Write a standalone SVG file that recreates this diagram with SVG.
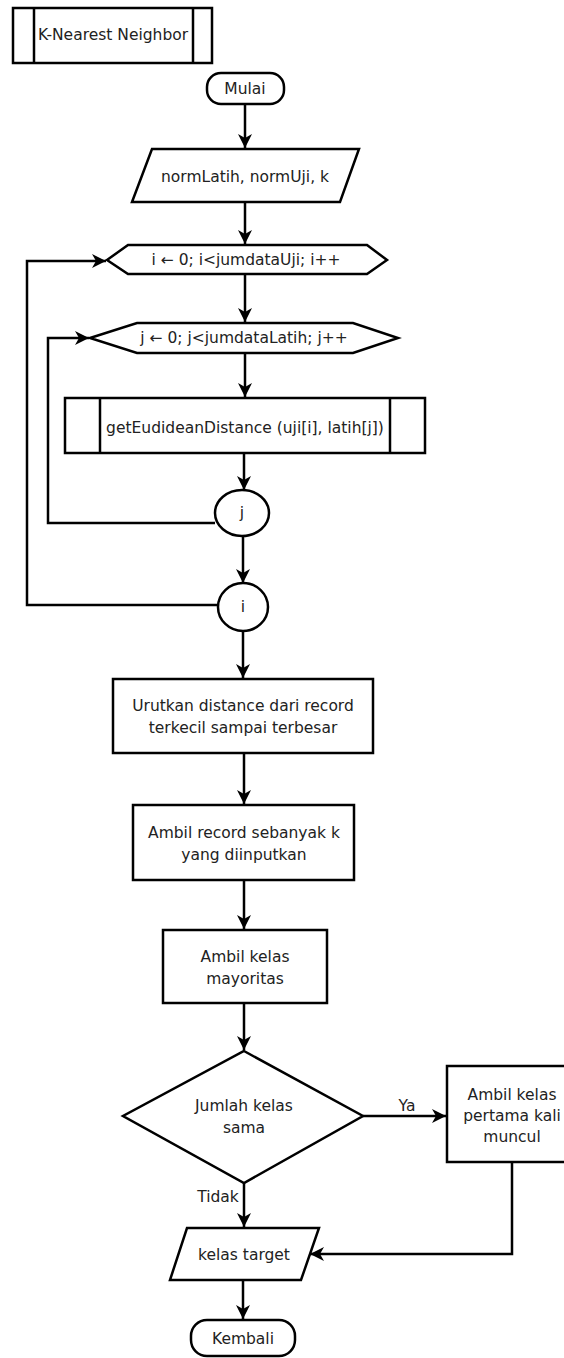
<svg xmlns="http://www.w3.org/2000/svg" width="564" height="1358" viewBox="0 0 564 1358">
<style>
.s{fill:#fff;stroke:#000;stroke-width:2.5}
.l{fill:none;stroke:#000;stroke-width:2.5}
.t{font-family:"DejaVu Sans",Verdana,sans-serif;font-size:15.5px;fill:#222;text-anchor:middle;dominant-baseline:central}
</style>
<defs>
<marker id="a" markerUnits="userSpaceOnUse" markerWidth="16" markerHeight="14" refX="14" refY="7" orient="auto">
<path d="M0,0 L14,7 L0,14 L4,7 z" fill="#000"/>
</marker>
</defs>
<rect width="564" height="1358" fill="#fff"/>
<g id="title">
<rect class="s" x="13" y="8" width="199" height="55"/>
<line class="l" x1="34" y1="8" x2="34" y2="63"/>
<line class="l" x1="193" y1="8" x2="193" y2="63"/>
<text class="t" x="113" y="35">K-Nearest Neighbor</text>
</g>
<g id="mulai">
<rect class="s" x="207" y="73" width="77" height="31" rx="14"/>
<text class="t" x="245" y="89">Mulai</text>
</g>
<g id="input">
<polygon class="s" points="152,149 359,149 340,202 132,202"/>
<text class="t" x="245" y="177">normLatih, normUji, k</text>
</g>
<g id="loopi">
<polygon class="s" points="107,260 128,245 367,245 387,260 367,274 128,274"/>
<text class="t" x="246" y="260">i ← 0; i&lt;jumdataUji; i++</text>
</g>
<g id="loopj">
<polygon class="s" points="90,338 137,323 353,323 398,338 353,353 137,353"/>
<text class="t" x="244" y="338">j ← 0; j&lt;jumdataLatih; j++</text>
</g>
<g id="euclid">
<rect class="s" x="65" y="398" width="360" height="55"/>
<line class="l" x1="100" y1="398" x2="100" y2="453"/>
<line class="l" x1="390" y1="398" x2="390" y2="453"/>
<text class="t" x="245" y="428">getEudideanDistance (uji[i], latih[j])</text>
</g>
<g id="endj">
<ellipse class="s" cx="242" cy="513" rx="27" ry="23"/>
<text class="t" x="242" y="513">j</text>
</g>
<g id="endi">
<ellipse class="s" cx="243" cy="607" rx="25" ry="24"/>
<text class="t" x="243" y="607">i</text>
</g>
<g id="urutkan">
<rect class="s" x="113" y="679" width="260" height="74"/>
<text class="t" x="243" y="706">Urutkan distance dari record</text>
<text class="t" x="243" y="728">terkecil sampai terbesar</text>
</g>
<g id="ambilk">
<rect class="s" x="133" y="805" width="221" height="75"/>
<text class="t" x="244" y="833">Ambil record sebanyak k</text>
<text class="t" x="244" y="855">yang diinputkan</text>
</g>
<g id="mayoritas">
<rect class="s" x="163" y="930" width="164" height="73"/>
<text class="t" x="245" y="957">Ambil kelas</text>
<text class="t" x="245" y="979">mayoritas</text>
</g>
<g id="decision">
<polygon class="s" points="244,1051 363,1116 244,1183 123,1116"/>
<text class="t" x="244" y="1106">Jumlah kelas</text>
<text class="t" x="244" y="1128">sama</text>
</g>
<g id="pertama">
<rect class="s" x="447" y="1066" width="135" height="96"/>
<text class="t" x="512" y="1095">Ambil kelas</text>
<text class="t" x="512" y="1116">pertama kali</text>
<text class="t" x="512" y="1137">muncul</text>
</g>
<g id="output">
<polygon class="s" points="187,1228 319,1228 301,1280 170,1280"/>
<text class="t" x="244" y="1255">kelas target</text>
</g>
<g id="kembali">
<rect class="s" x="191" y="1320" width="104" height="36" rx="16"/>
<text class="t" x="243" y="1339">Kembali</text>
</g>
<g id="connectors">
<line class="l" x1="245" y1="104" x2="245" y2="148" marker-end="url(#a)"/>
<line class="l" x1="245" y1="202" x2="245" y2="244" marker-end="url(#a)"/>
<line class="l" x1="245" y1="274" x2="245" y2="322" marker-end="url(#a)"/>
<line class="l" x1="245" y1="353" x2="245" y2="397" marker-end="url(#a)"/>
<line class="l" x1="244" y1="453" x2="244" y2="490" marker-end="url(#a)"/>
<polyline class="l" points="215,523 48,523 48,338 89,338" marker-end="url(#a)"/>
<line class="l" x1="243" y1="536" x2="243" y2="583" marker-end="url(#a)"/>
<polyline class="l" points="218,605 27,605 27,261 106,261" marker-end="url(#a)"/>
<line class="l" x1="243" y1="631" x2="243" y2="678" marker-end="url(#a)"/>
<line class="l" x1="244" y1="753" x2="244" y2="804" marker-end="url(#a)"/>
<line class="l" x1="244" y1="880" x2="244" y2="929" marker-end="url(#a)"/>
<line class="l" x1="244" y1="1003" x2="244" y2="1050" marker-end="url(#a)"/>
<line class="l" x1="363" y1="1116" x2="446" y2="1116" marker-end="url(#a)"/>
<text class="t" x="407" y="1106">Ya</text>
<line class="l" x1="244" y1="1183" x2="244" y2="1227" marker-end="url(#a)"/>
<text class="t" x="218" y="1197">Tidak</text>
<polyline class="l" points="512,1162 512,1254 310,1254" marker-end="url(#a)"/>
<line class="l" x1="243" y1="1280" x2="243" y2="1319" marker-end="url(#a)"/>
</g>
</svg>
